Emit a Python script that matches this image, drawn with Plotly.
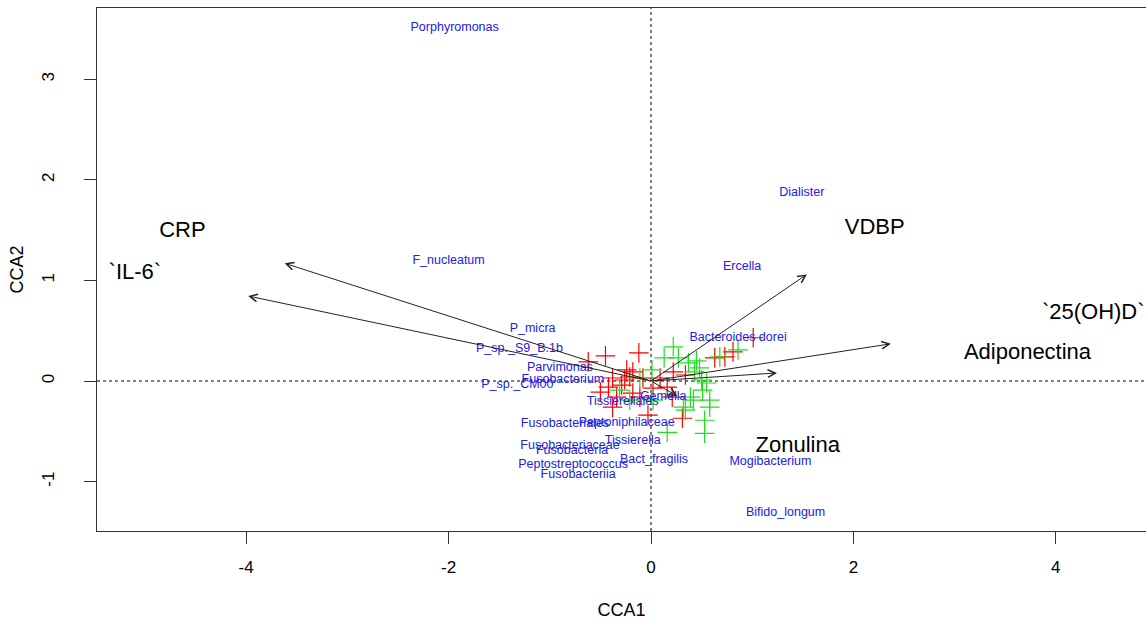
import plotly.graph_objects as go

# ---- data ----
env_names = ["CRP", "`IL-6`", "VDBP", "`25(OH)D`", "Adiponectina", "Zonulina"]
arrow_x = [-3.62, -3.98, 1.54, 2.37, 1.245, 0.26]
arrow_y = [1.17, 0.845, 1.06, 0.37, 0.08, -0.15]
env_label_x = [-4.63, -5.10, 2.21, 4.37, 3.72, 1.45]
env_label_y = [1.49, 1.07, 1.52, 0.67, 0.27, -0.65]

species = ["Porphyromonas", "Dialister", "F_nucleatum", "Ercella", "P_micra",
           "P_sp._S9_B.1b", "Bacteroides dorei", "Parvimonas", "Fusobacterium",
           "P_sp._CM00", "Tissierellales", "Gemella", "Fusobacteriales",
           "Peptoniphilaceae", "Tissierella", "Fusobacteriaceae", "Fusobacteria",
           "Peptostreptococcus", "Bact_fragilis", "Fusobacteriia", "Mogibacterium",
           "Bifido_longum"]
species_x = [-1.94, 1.49, -2.00, 0.90, -1.17, -1.30, 0.86, -0.90, -0.87, -1.32,
             -0.28, 0.12, -0.85, -0.24, -0.18, -0.80, -0.78, -0.77, 0.03, -0.72,
             1.18, 1.33]
species_y = [3.51, 1.87, 1.19, 1.13, 0.52, 0.32, 0.43, 0.13, 0.01, -0.04,
             -0.21, -0.16, -0.43, -0.42, -0.60, -0.64, -0.69, -0.83, -0.78, -0.93,
             -0.80, -1.31]

red_x = [-0.62, -0.45, -0.12, -0.24, -0.18, -0.21, -0.38, -0.42, -0.29, -0.18,
         -0.34, -0.11, -0.38, -0.03, 0.22, 0.34, 0.16, 0.31, 0.63, 0.73,
         0.81, 1.01, 0.02, 0.21, -0.26, -0.08, -0.50, 0.09]
red_y = [0.19, 0.25, 0.28, 0.11, 0.09, 0.04, 0.03, -0.06, -0.04, -0.12,
         -0.16, -0.16, -0.26, -0.34, 0.09, 0.06, -0.06, -0.37, 0.23, 0.24,
         0.29, 0.43, -0.07, -0.16, 0.01, 0.03, -0.11, 0.03]

green_x = [0.22, 0.27, 0.01, 0.37, 0.43, 0.50, -0.31, 0.39, 0.51, 0.58,
           0.58, 0.32, 0.34, 0.53, 0.53, 0.16, 0.86, 0.68, 0.55, 0.02,
           -0.21, 0.45, 0.13, -0.11, 0.42, 0.48]
green_y = [0.34, 0.23, 0.11, 0.18, 0.09, 0.01, -0.09, -0.16, -0.09, -0.19,
           -0.26, -0.26, -0.29, -0.39, -0.52, -0.51, 0.31, 0.24, -0.02, -0.19,
           -0.19, 0.20, 0.23, 0.03, -0.19, 0.13]

x_ticks = [-4, -2, 0, 2, 4]
x_tick_labels = ["-4", "-2", "0", "2", "4"]
y_ticks = [-1, 0, 1, 2, 3]
y_tick_labels = ["-1", "0", "1", "2", "3"]

FONT = "Liberation Sans, Arial, sans-serif"

fig = go.Figure()

fig.add_trace(go.Scatter(
    x=red_x, y=red_y, mode="markers",
    marker=dict(symbol="cross-thin", size=14, line=dict(color="#ff0000", width=1.2)),
    showlegend=False, hoverinfo="skip"))
fig.add_trace(go.Scatter(
    x=green_x, y=green_y, mode="markers",
    marker=dict(symbol="cross-thin", size=14, line=dict(color="#22dd22", width=1.2)),
    showlegend=False, hoverinfo="skip"))

fig.add_trace(go.Scatter(
    x=species_x, y=species_y, mode="text", text=species,
    textposition="middle center",
    textfont=dict(family=FONT, size=12.5, color="#2020e0"),
    showlegend=False, hoverinfo="skip"))

fig.add_trace(go.Scatter(
    x=env_label_x, y=env_label_y, mode="text", text=env_names,
    textposition="middle center",
    textfont=dict(family=FONT, size=22, color="black"),
    showlegend=False, hoverinfo="skip"))

# dotted origin lines
fig.add_shape(type="line", xref="x", yref="paper", x0=0, x1=0, y0=0, y1=1,
              line=dict(color="black", width=1, dash="dot"), layer="below")
fig.add_shape(type="line", xref="paper", yref="y", x0=0, x1=1, y0=0, y1=0,
              line=dict(color="black", width=1, dash="dot"), layer="below")

# biplot arrows
for ex, ey in zip(arrow_x, arrow_y):
    fig.add_annotation(x=ex, y=ey, ax=0, ay=0, xref="x", yref="y",
                       axref="x", ayref="y", text="", showarrow=True,
                       arrowhead=5, arrowsize=1.5, arrowwidth=1, arrowcolor="#222")

fig.update_layout(
    width=1146, height=624,
    margin=dict(l=97, r=0, t=8, b=93),
    paper_bgcolor="white", plot_bgcolor="white",
    font=dict(family=FONT, color="black"),
    xaxis=dict(range=[-5.474, 4.891], tickvals=x_ticks, ticktext=x_tick_labels,
               showgrid=False, zeroline=False,
               showline=True, linecolor="#333", linewidth=1, mirror=True,
               ticks="outside", ticklen=12, tickcolor="#333", tickwidth=1,
               tickfont=dict(size=17, family=FONT), ticklabelstandoff=9,
               title=dict(text="CCA1", font=dict(size=18, family=FONT), standoff=26)),
    yaxis=dict(range=[-1.491, 3.708], tickvals=y_ticks, ticktext=y_tick_labels,
               showgrid=False, zeroline=False,
               showline=True, linecolor="#333", linewidth=1, mirror=False,
               ticks="outside", ticklen=12, tickcolor="#333", tickwidth=1,
               tickangle=-90,
               tickfont=dict(size=17, family=FONT), ticklabelstandoff=23,
               title=dict(text="CCA2", font=dict(size=18, family=FONT), standoff=10)),
)

fig.write_html("out.html", config={"displayModeBar": False},
               post_script="document.body.style.margin='0';document.body.style.overflow='hidden';")
